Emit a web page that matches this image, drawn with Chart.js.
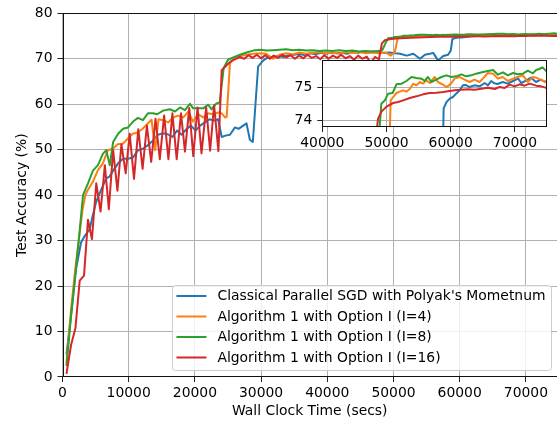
<!DOCTYPE html>
<html><head><meta charset="utf-8">
<script src="https://cdn.jsdelivr.net/npm/chart.js@4/dist/chart.umd.min.js"></script>
<style>
html,body{margin:0;padding:0;background:#fff;}
#wrap{position:relative;width:557px;height:425px;background:#fff;}
#wrap canvas{position:absolute;left:0;top:0;}
</style></head><body>
<div id="wrap"><canvas id="main" width="557" height="425"></canvas><canvas id="inset" width="557" height="425"></canvas></div>
<script>
const SERIES_LABELS = ["Classical Parallel SGD with Polyak's Mometnum","Algorithm 1 with Option I (I=4)","Algorithm 1 with Option I (I=8)","Algorithm 1 with Option I (I=16)"];
const X_TITLE = "Wall Clock Time (secs)";
const Y_TITLE = "Test Accuracy (%)";
const X_TICKS = [0,10000,20000,30000,40000,50000,60000,70000];
const Y_TICKS = [0,10,20,30,40,50,60,70,80];
const INSET_X_TICKS = [40000,50000,60000,70000];
const INSET_Y_TICKS = [74,75];

const BLUE_T = [600,1300,2050,2800,3350,4100,4600,5100,5850,6600,7100,7650,8400,9150,9900,10650,11400,12150,12900,13650,14400,15150,15900,16600,17300,18000,18700,19400,20100,20800,21500,22200,22900,23500,24050,24600,25300,26050,26600,27300,27800,28300,28750,29550,30300,31000,31800,32600,33400,34200,35000,35800,36600,37400,38200,39000,39800,40600,41400,42200,43000,43800,44600,45400,46200,47000,47800,48600,49400,50200,51000,52000,53000,54000,54750,55500,56000,56750,57500,58250,58650,58900,59350,59850,60350,60850,61400,61900,62400,62900,63700,64500,65300,65800,66300,66800,67300,68100,68900,69700,70500,71000,71800,72500,73300,74000,74800,75200];
const BLUE_ACC = [5.0,13.6,23.8,29.6,31.0,32.5,35.7,38.6,41.2,43.7,44.1,45.4,47.0,48.0,48.0,48.3,49.9,50.2,51.0,52.0,53.3,53.6,53.4,52.8,54.2,53.3,54.5,55.3,54.2,55.3,56.0,56.7,56.4,56.7,52.8,53.1,53.3,54.9,54.6,55.3,55.8,52.2,51.7,68.3,69.6,70.3,70.4,70.6,70.4,70.8,70.9,71.1,70.8,71.2,71.0,71.3,71.1,71.4,71.2,71.3,71.1,71.5,71.3,71.6,71.4,71.6,71.5,71.3,71.4,71.2,71.1,70.7,71.1,70.0,70.9,71.1,71.3,69.6,70.6,70.9,71.8,74.37,74.56,74.66,74.71,74.81,74.91,75.06,75.07,75.01,75.06,75.03,75.13,75.06,75.19,75.12,75.10,75.16,75.11,75.19,75.26,75.13,75.21,75.29,75.16,75.23,75.16,75.2];

const ORANGE_T = [600,1300,1950,2450,3000,3450,3850,4600,5350,6100,6850,7600,8350,9100,9850,10600,11350,12100,12850,13450,14000,14500,15200,15950,16700,17450,18250,19000,19700,20500,21250,22000,22750,23500,24050,24550,24800,25300,26050,26800,27800,28800,29800,30800,31800,32800,33800,34800,35800,36800,37800,38800,39800,40800,41800,42800,43800,44800,45800,46800,47800,48800,49600,50200,50650,51050,51550,52050,52600,53100,53650,54150,54650,55200,55700,56200,56750,57500,58000,58800,59350,60050,60600,61400,62150,62950,63700,64500,65000,65800,66600,67350,68100,68900,69700,70450,71250,72000,72800,73300,74000,74800,75200];
const ORANGE_ACC = [3.0,15.0,24.0,30.0,36.5,40.0,41.2,43.0,45.5,47.0,49.9,50.2,51.2,51.3,52.4,53.5,53.8,54.6,55.7,56.6,49.9,56.7,56.5,56.0,57.1,57.5,57.1,58.4,56.2,57.8,57.1,58.0,57.8,58.2,58.0,57.1,57.2,69.1,70.1,70.6,70.9,71.1,71.2,71.1,70.0,70.9,71.2,71.0,71.4,71.1,71.3,71.5,71.2,71.4,71.1,71.5,71.3,71.5,71.2,71.4,71.2,71.4,70.7,71.5,74.61,74.71,74.83,74.87,74.91,74.87,74.96,75.11,75.06,75.16,75.11,75.21,75.13,75.31,75.16,75.08,75.01,75.11,75.26,75.31,75.23,75.16,75.23,75.16,75.26,75.43,75.41,75.26,75.31,75.19,75.26,75.31,75.36,75.16,75.31,75.29,75.23,75.16,75.15];

const GREEN_T = [600,1300,1900,2450,3100,3850,4600,5350,6100,6600,7150,7650,8400,9150,9900,10650,11400,12150,12900,13650,14300,15200,16200,17000,17750,18500,19250,19750,20500,21250,22000,22500,23250,23750,24350,25000,25800,26800,27800,28800,29800,30800,31800,32800,33800,34800,35800,36800,37800,38800,39800,40800,41800,42800,43800,44800,45800,46800,47800,48350,48850,49200,49750,50250,50950,51550,52350,53100,53900,54650,55450,55950,56450,57000,57750,58550,59350,60100,60850,61650,62400,63200,63950,65050,65800,66600,67350,68150,68900,69700,70450,71250,72000,72800,73300,73800,74300,74800,75200];
const GREEN_ACC = [2.4,13.6,22.0,30.0,40.0,42.6,45.4,46.6,49.1,49.9,46.6,51.7,53.5,54.6,54.9,56.2,57.0,56.5,58.0,58.0,57.8,58.6,58.9,58.4,59.3,58.7,60.1,59.1,59.1,59.1,59.9,58.9,60.2,60.4,68.0,69.8,70.3,70.9,71.4,71.8,72.0,71.8,71.9,72.0,72.1,71.9,72.0,71.8,71.9,71.7,71.8,71.7,71.9,71.7,71.8,71.6,71.7,71.6,71.7,72.0,73.6,74.51,74.61,74.81,74.83,75.09,75.11,75.19,75.31,75.28,75.26,75.19,75.31,75.16,75.23,75.31,75.36,75.31,75.33,75.39,75.33,75.36,75.41,75.46,75.49,75.52,75.38,75.45,75.36,75.43,75.39,75.41,75.5,75.42,75.52,75.55,75.6,75.5,75.45];

const RED_T = [600,1300,1950,2600,3250,3850,4450,5100,5750,6400,7000,7650,8300,8900,9550,10150,10800,11450,12100,12750,13400,14050,14700,15350,16000,16600,17250,17900,18500,19150,19750,20400,21000,21700,22300,22900,23550,24050,24600,25100,25600,26200,26800,27450,28100,28700,29350,30000,30650,31300,31900,32550,33200,33850,34450,35100,35750,36400,37000,37650,38300,38950,39550,40200,40850,41500,42100,42750,43400,44050,44650,45300,45950,46550,47200,47800,48250,48700,49220,50000,51040,51800,52590,53630,54660,55700,56740,57770,58800,59840,60620,61660,62700,63730,64770,65800,66840,67620,68400,69180,69950,70730,71510,72290,73320,74100,74770,75200];
const RED_ACC = [0.7,7.1,10.7,21.2,22.3,34.6,30.3,42.6,36.4,46.6,36.9,49.9,41.0,51.2,44.8,53.5,43.6,54.5,45.8,55.3,47.3,56.8,47.9,57.5,47.9,58.0,47.9,58.0,49.6,59.2,48.6,59.3,49.2,59.3,49.8,59.8,49.7,67.5,68.3,69.0,69.6,70.0,70.4,70.0,70.8,70.2,70.9,70.1,70.8,70.0,70.7,70.2,70.9,70.3,70.8,70.0,70.7,70.1,70.9,70.2,70.6,69.9,70.8,70.0,70.7,70.2,70.9,70.1,70.6,69.8,70.7,70.0,70.5,69.0,70.4,69.9,73.4,74.07,74.27,74.42,74.53,74.56,74.61,74.68,74.73,74.79,74.83,74.84,74.86,74.89,74.91,74.93,74.94,74.93,74.96,74.99,74.95,75.01,74.98,75.08,75.03,75.09,75.05,75.11,75.05,75.03,74.99,75.0];

const COLORS = ['#1f77b4','#ff7f0e','#2ca02c','#d62728'];
const FONT = {family:'"DejaVu Sans", sans-serif', size:13.9};

function pts(T, A){ return T.map((t,i)=>({x:t, y:A[i]})); }
function makeDatasets(){
  const TS=[BLUE_T,ORANGE_T,GREEN_T,RED_T], AS=[BLUE_ACC,ORANGE_ACC,GREEN_ACC,RED_ACC];
  return TS.map((T,i)=>({label:SERIES_LABELS[i], data:pts(T,AS[i]), borderColor:COLORS[i], backgroundColor:COLORS[i],
    borderWidth:2, pointRadius:0, tension:0, fill:false, order:4-i, borderJoinStyle:'round', borderCapStyle:'butt'}));
}
const gridOpts = {color:'#b0b0b0', lineWidth:1, tickColor:'#222', tickLength:5, tickWidth:1};

const spines = (sides)=>({id:'spines'+sides, afterDatasetsDraw(c){
  const a=c.chartArea, ctx=c.ctx; ctx.save(); ctx.strokeStyle='#111'; ctx.lineWidth=1; ctx.beginPath();
  const L=Math.round(a.left)+0.5, R=Math.round(a.right)-0.5, T=Math.round(a.top)+0.5, B=Math.round(a.bottom)-0.5;
  if(sides.includes('l')){ctx.moveTo(L,T-0.5);ctx.lineTo(L,B+0.5);}
  if(sides.includes('b')){ctx.moveTo(L-0.5,B);ctx.lineTo(R+0.5,B);}
  if(sides.includes('t')){ctx.moveTo(L-0.5,T);ctx.lineTo(R+0.5,T);}
  if(sides.includes('r')){ctx.moveTo(R,T-0.5);ctx.lineTo(R,B+0.5);}
  ctx.stroke(); ctx.restore();
}});

const legendPlugin = {id:'mplLegend', afterDraw(c){
  const a=c.chartArea, ctx=c.ctx; ctx.save();
  ctx.font = FONT.size+'px '+FONT.family;
  const ds=c.data.datasets;
  let tw=0; ds.forEach(d=>{tw=Math.max(tw,ctx.measureText(d.label).width);});
  const rowH=20.5, right=a.right-6, bottom=a.bottom-7;
  const h=rowH*ds.length+3, w=tw+51;
  const left=right-w, top=bottom-h;
  ctx.beginPath();
  if(ctx.roundRect) ctx.roundRect(left+0.5,top+0.5,w,h,3); else ctx.rect(left+0.5,top+0.5,w,h);
  ctx.fillStyle='rgba(255,255,255,0.8)'; ctx.fill();
  ctx.strokeStyle='#cccccc'; ctx.lineWidth=1; ctx.stroke();
  ds.forEach((d,i)=>{
    const y=top+11+i*rowH;
    ctx.strokeStyle=d.borderColor; ctx.lineWidth=2; ctx.beginPath(); ctx.moveTo(left+4.5,y); ctx.lineTo(left+34.5,y); ctx.stroke();
    ctx.fillStyle='#000'; ctx.textBaseline='middle'; ctx.textAlign='left'; ctx.fillText(d.label,left+45.5,y+0.5);
  });
  ctx.restore();
}};

const insetBg = {id:'insetBg', beforeDraw(c){
  const a=c.chartArea, ctx=c.ctx; ctx.save(); ctx.fillStyle='#fff'; ctx.fillRect(a.left,a.top,a.right-a.left,a.bottom-a.top); ctx.restore();
}};

const tickFmt = v=>String(v);

new Chart(document.getElementById('main'), {
  type:'line',
  data:{datasets:makeDatasets()},
  options:{
    responsive:false, animation:false, parsing:true, normalized:true,
    layout:{padding:{top:7,left:0,right:0,bottom:0}, autoPadding:false},
    plugins:{legend:{display:false}, tooltip:{enabled:false}},
    scales:{
      x:{type:'linear', min:0, max:74700,
        afterBuildTicks:s=>{s.ticks=X_TICKS.map(v=>({value:v}));},
        afterFit:s=>{s.height=48;},
        grid:gridOpts, border:{display:false},
        ticks:{font:FONT, color:'#000', padding:3, maxRotation:0, autoSkip:false, callback:tickFmt},
        title:{display:true, text:X_TITLE, font:FONT, color:'#000', padding:{top:0,bottom:5.7}}},
      y:{type:'linear', min:0, max:80,
        afterBuildTicks:s=>{s.ticks=Y_TICKS.map(v=>({value:v}));},
        afterFit:s=>{s.width=62.5;},
        grid:gridOpts, border:{display:false},
        ticks:{font:FONT, color:'#000', padding:5, autoSkip:false, callback:tickFmt},
        title:{display:true, text:Y_TITLE, font:FONT, color:'#000', padding:{top:14.2,bottom:0}}}
    }
  },
  plugins:[spines('lbt'), legendPlugin]
});

new Chart(document.getElementById('inset'), {
  type:'line',
  data:{datasets:makeDatasets()},
  options:{
    responsive:false, animation:false,
    layout:{padding:{top:60,left:280,right:10,bottom:250}, autoPadding:false},
    plugins:{legend:{display:false}, tooltip:{enabled:false}},
    scales:{
      x:{type:'linear', min:40000, max:75000,
        afterBuildTicks:s=>{s.ticks=INSET_X_TICKS.map(v=>({value:v}));},
        afterFit:s=>{s.height=48;},
        grid:gridOpts, border:{display:false},
        ticks:{font:FONT, color:'#000', padding:3, maxRotation:0, autoSkip:false, callback:tickFmt}},
      y:{type:'linear', min:73.81, max:75.82,
        afterBuildTicks:s=>{s.ticks=INSET_Y_TICKS.map(v=>({value:v}));},
        afterFit:s=>{s.width=42.3;},
        grid:gridOpts, border:{display:false},
        ticks:{font:FONT, color:'#000', padding:5, autoSkip:false, callback:tickFmt}}
    }
  },
  plugins:[insetBg, spines('lbtr')]
});
</script>
</body></html>
